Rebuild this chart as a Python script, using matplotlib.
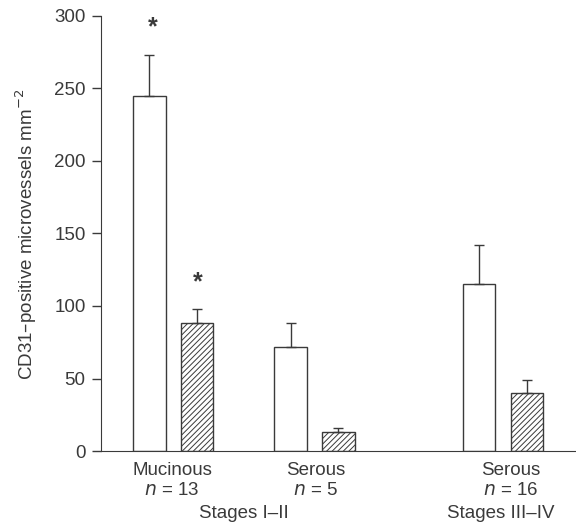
import matplotlib
matplotlib.use('Agg')
import matplotlib.pyplot as plt

plt.rcParams['font.family'] = ['Liberation Sans', 'DejaVu Sans']
plt.rcParams['hatch.linewidth'] = 0.7
plt.rcParams['hatch.color'] = '#444444'

groups = ['Mucinous', 'Serous', 'Serous']
group_n = [13, 5, 16]
stage_labels = ['Stages I\u2013II', 'Stages III\u2013IV']
white_vals = [245, 72, 115]
white_err = [28, 16, 27]
hatch_vals = [88, 13, 40]
hatch_err = [10, 3, 9]
white_sig = [True, False, False]
hatch_sig = [True, False, False]

ink = '#3a3a3a'
fs = 13.5
centers = [1.51, 4.45, 8.38]
off = 0.5
w = 0.67

fig = plt.figure(figsize=(5.76, 5.24), dpi=100)
ax = fig.add_axes([0.1753, 0.1393, 0.8247, 0.8302])

xw = [c - off for c in centers]
xh = [c + off for c in centers]
ax.bar(xw, white_vals, width=w, color='white', edgecolor=ink, linewidth=1.0,
       yerr=[[0] * 3, white_err], error_kw=dict(ecolor=ink, elinewidth=1.0, capsize=3.6, capthick=1.0))
ax.bar(xh, hatch_vals, width=w, color='white', edgecolor=ink, linewidth=1.0, hatch='//////',
       yerr=[[0] * 3, hatch_err], error_kw=dict(ecolor=ink, elinewidth=1.0, capsize=3.6, capthick=1.0))

# significance stars
for x, v, e, s in zip(xw, white_vals, white_err, white_sig):
    if s:
        ax.text(x + 0.06, v + e + 19.5, '*', ha='center', va='center', fontsize=18,
                fontweight='bold', color=ink)
for x, v, e, s in zip(xh, hatch_vals, hatch_err, hatch_sig):
    if s:
        ax.text(x, v + e + 18.5, '*', ha='center', va='center', fontsize=18,
                fontweight='bold', color=ink)

ax.set_xlim(0, 9.9)
ax.set_ylim(0, 300)
ax.set_yticks([0, 50, 100, 150, 200, 250, 300])
ax.set_xticks([])
ax.spines['top'].set_visible(False)
ax.spines['right'].set_visible(False)
ax.spines['left'].set_color(ink)
ax.spines['bottom'].set_color(ink)
ax.tick_params(axis='y', direction='out', length=6.7, width=1.0, pad=4.3,
               labelsize=fs, colors=ink)
ax.set_ylabel('CD31\u2013positive microvessels mm$^{-2}$', fontsize=fs, color=ink)
ax.yaxis.set_label_coords(-0.13, 0.497)

tx = [centers[0] - 0.03, centers[1] + 0.03, centers[2] + 0.16]
for x, g, n in zip(tx, groups, group_n):
    ax.text(x, -13.5, g, ha='center', va='center', fontsize=fs, color=ink, clip_on=False)
    ax.text(x, -27, '$n$ = %d' % n, ha='center', va='center', fontsize=fs, color=ink,
            clip_on=False)
ax.text((centers[0] + centers[1]) / 2, -43, stage_labels[0], ha='center', va='center',
        fontsize=fs, color=ink, clip_on=False)
ax.text(centers[2] - 0.05, -43, stage_labels[1], ha='center', va='center',
        fontsize=fs, color=ink, clip_on=False)

fig.savefig('out.png', dpi=100, facecolor='white')
